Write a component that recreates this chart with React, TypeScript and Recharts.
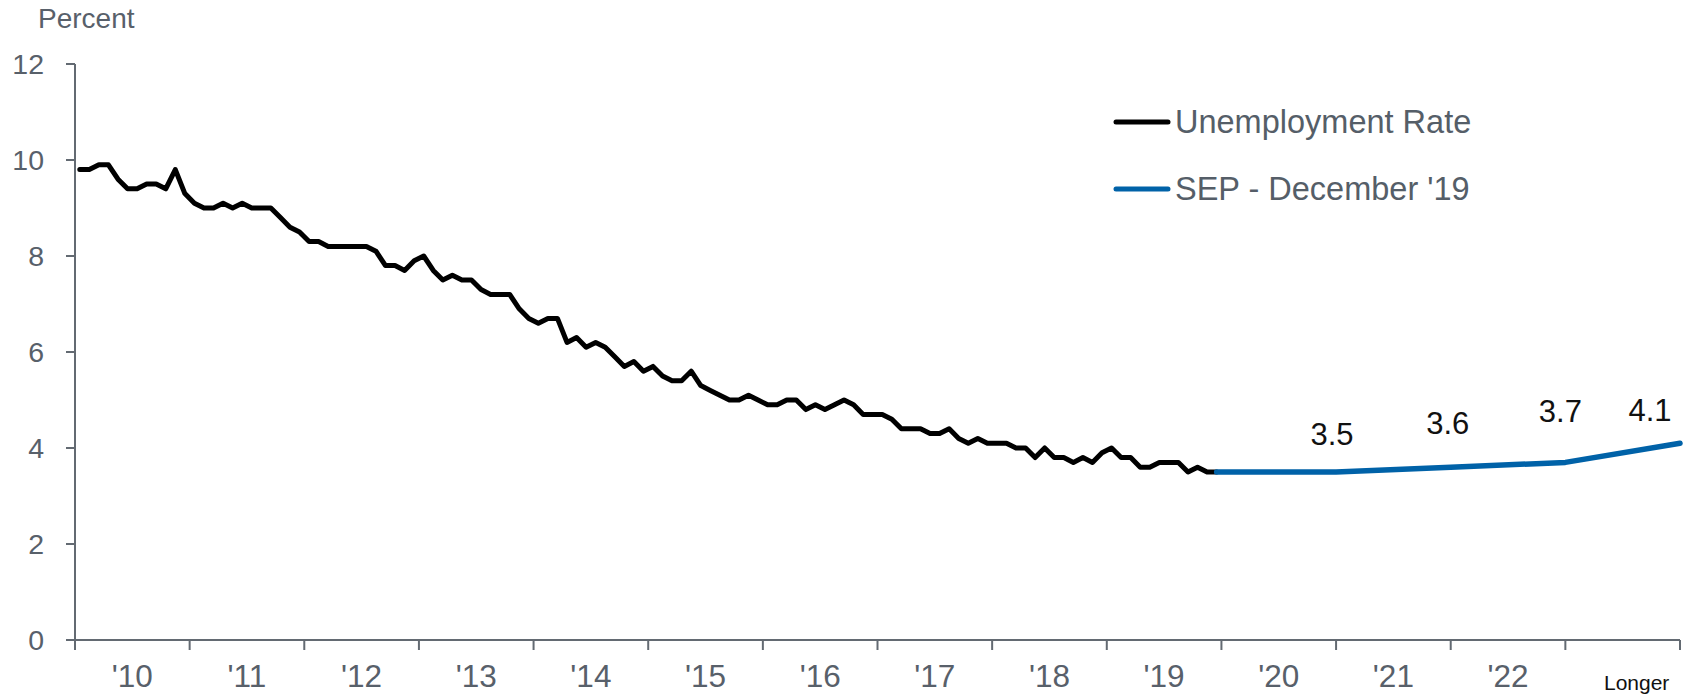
import { LineChart, Line, XAxis, YAxis, Legend, Label } from 'recharts';

// unemployment rate, monthly, Jan 2010 .. Dec 2019
const UNRATE_2010 = [9.8, 9.8, 9.9, 9.9, 9.6, 9.4, 9.4, 9.5, 9.5, 9.4, 9.8, 9.3];
const UNRATE_2011 = [9.1, 9.0, 9.0, 9.1, 9.0, 9.1, 9.0, 9.0, 9.0, 8.8, 8.6, 8.5];
const UNRATE_2012 = [8.3, 8.3, 8.2, 8.2, 8.2, 8.2, 8.2, 8.1, 7.8, 7.8, 7.7, 7.9];
const UNRATE_2013 = [8.0, 7.7, 7.5, 7.6, 7.5, 7.5, 7.3, 7.2, 7.2, 7.2, 6.9, 6.7];
const UNRATE_2014 = [6.6, 6.7, 6.7, 6.2, 6.3, 6.1, 6.2, 6.1, 5.9, 5.7, 5.8, 5.6];
const UNRATE_2015 = [5.7, 5.5, 5.4, 5.4, 5.6, 5.3, 5.2, 5.1, 5.0, 5.0, 5.1, 5.0];
const UNRATE_2016 = [4.9, 4.9, 5.0, 5.0, 4.8, 4.9, 4.8, 4.9, 5.0, 4.9, 4.7, 4.7];
const UNRATE_2017 = [4.7, 4.6, 4.4, 4.4, 4.4, 4.3, 4.3, 4.4, 4.2, 4.1, 4.2, 4.1];
const UNRATE_2018 = [4.1, 4.1, 4.0, 4.0, 3.8, 4.0, 3.8, 3.8, 3.7, 3.8, 3.7, 3.9];
const UNRATE_2019 = [4.0, 3.8, 3.8, 3.6, 3.6, 3.7, 3.7, 3.7, 3.5, 3.6, 3.5, 3.5];

// SEP median projections (first point = last actual, so the lines join)
const SEP_MONTH = [119.5, 132, 144, 156, 168]; // months since Jan 2010
const SEP_VALUES = [3.5, 3.5, 3.6, 3.7, 4.1];

const YEAR_LABELS = ["'10", "'11", "'12", "'13", "'14", "'15", "'16", "'17", "'18", "'19", "'20", "'21", "'22", 'Longer'];
const Y_TICKS = [0, 2, 4, 6, 8, 10, 12];

const unrate = [
  ...UNRATE_2010, ...UNRATE_2011, ...UNRATE_2012, ...UNRATE_2013, ...UNRATE_2014,
  ...UNRATE_2015, ...UNRATE_2016, ...UNRATE_2017, ...UNRATE_2018, ...UNRATE_2019,
].map((v, i) => ({ m: i + 0.5, rate: v }));
const sep = SEP_VALUES.map((v, i) => ({ m: SEP_MONTH[i], sep: v }));

const FONT = '"Liberation Sans", Arial, Helvetica, sans-serif';
const GRAY = '#58606a';
const AXIS = '#636a72';
const BLUE = '#0062a8';

const W = 1690;
const H = 695;
const MARGIN = { top: 64, right: 10, bottom: 0, left: 0 };
const Y_AXIS_W = 75;
const HALF_YEAR_PX = (W - MARGIN.left - MARGIN.right - Y_AXIS_W) / 28;

// hand placement of the projection labels, as in the original deck
const LABEL_NUDGE: Array<[number, number] | null> = [null, [-4, -38], [-3, -44], [-5, -51], [-30, -33]];

function YearTick(props: any) {
  const { x, y, payload } = props;
  const idx = Math.round(payload.value / 12);
  const label = YEAR_LABELS[idx];
  if (!label) return null;
  if (label === 'Longer') {
    return (
      <text x={x + HALF_YEAR_PX + 14} y={y + 25} textAnchor="middle" fontSize={21} fill="#111" fontFamily={FONT}>
        {label}
      </text>
    );
  }
  return (
    <text x={x + HALF_YEAR_PX} y={y} dy="0.71em" textAnchor="middle" fontSize={31.5} fill={GRAY} fontFamily={FONT}>
      {label}
    </text>
  );
}

function SepLabel(props: any) {
  const { index, value } = props;
  const nudge = LABEL_NUDGE[index];
  if (!nudge) return null;
  const px = props.x ?? props.viewBox?.x;
  const py = props.y ?? props.viewBox?.y;
  return (
    <text x={px + nudge[0]} y={py + nudge[1]} dy="0.355em" textAnchor="middle" fontSize={31} fill="#111" fontFamily={FONT}>
      {value}
    </text>
  );
}

function LegendBox() {
  const rows = [
    { name: 'Unemployment Rate', color: '#000' },
    { name: "SEP - December '19", color: BLUE },
  ];
  return (
    <div style={{ fontFamily: FONT, fontSize: 32.5, color: '#555e68', lineHeight: '36px' }}>
      {rows.map((r) => (
        <div key={r.name} style={{ display: 'flex', alignItems: 'center', height: 67, whiteSpace: 'nowrap' }}>
          <svg width={58} height={10}>
            <line x1={3} y1={5} x2={55} y2={5} stroke={r.color} strokeWidth={5} strokeLinecap="round" />
          </svg>
          <span style={{ marginLeft: 4 }}>{r.name}</span>
        </div>
      ))}
    </div>
  );
}

export default function App() {
  return (
    <div style={{ position: 'absolute', left: 0, top: 0, width: W, height: H, background: '#fff' }}>
      <LineChart width={W} height={H} margin={MARGIN} style={{ fontFamily: FONT }}>
        <XAxis
          type="number"
          dataKey="m"
          domain={[0, 168]}
          ticks={YEAR_LABELS.map((_, i) => i * 12).concat([168])}
          interval={0}
          height={55}
          tickSize={10}
          tickMargin={15}
          stroke={AXIS}
          strokeWidth={2}
          tick={<YearTick />}
          allowDuplicatedCategory={false}
        />
        <YAxis
          type="number"
          domain={[0, 12]}
          ticks={Y_TICKS}
          interval={0}
          width={Y_AXIS_W}
          tickSize={9}
          tickMargin={22}
          stroke={AXIS}
          strokeWidth={2}
          tick={{ fill: GRAY, fontSize: 28.5, fontFamily: FONT }}
        >
          <Label
            content={() => (
              <text x={38} y={28} fontSize={28} fill={GRAY} fontFamily={FONT}>Percent</text>
            )}
          />
        </YAxis>
        <Legend
          layout="vertical"
          align="center"
          verticalAlign="middle"
          wrapperStyle={{ top: 88, left: 1113, width: 'auto', height: 'auto' }}
          content={() => <LegendBox />}
        />
        <Line
          data={unrate}
          dataKey="rate"
          name="Unemployment Rate"
          stroke="#000"
          strokeWidth={5}
          strokeLinejoin="round"
          strokeLinecap="round"
          dot={false}
          activeDot={false}
          isAnimationActive={false}
        />
        <Line
          data={sep}
          dataKey="sep"
          name="SEP - December '19"
          stroke={BLUE}
          strokeWidth={5.5}
          strokeLinejoin="round"
          strokeLinecap="round"
          dot={false}
          activeDot={false}
          isAnimationActive={false}
          label={<SepLabel />}
        />
      </LineChart>
    </div>
  );
}
